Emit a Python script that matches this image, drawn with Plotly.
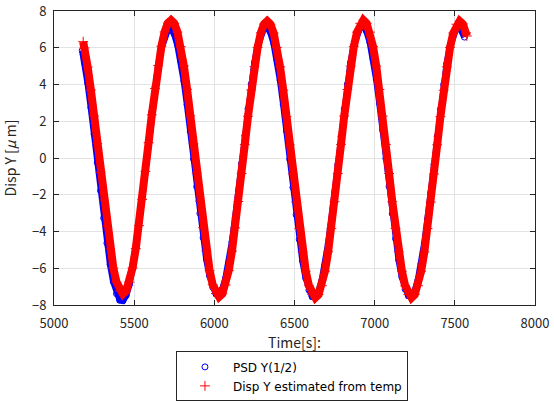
import plotly.graph_objects as go

# time grid shared by both series (s)
t_grid = [
    5190, 5210, 5230, 5250, 5270, 5290, 5310, 5330, 5350, 5370, 5390, 5410,
    5430, 5450, 5470, 5490, 5510, 5530, 5550, 5570, 5590, 5610, 5630, 5650, 5670, 5690, 5710,
    5730, 5750, 5770, 5790, 5810, 5830, 5850, 5870, 5890, 5910, 5930, 5950, 5970, 5990, 6010,
    6030, 6050, 6070, 6090, 6110, 6130, 6150, 6170, 6190, 6210, 6230, 6250, 6270, 6290, 6310,
    6330, 6350, 6370, 6390, 6410, 6430, 6450, 6470, 6490, 6510, 6530, 6550, 6570, 6590, 6610,
    6630, 6650, 6670, 6690, 6710, 6730, 6750, 6770, 6790, 6810, 6830, 6850, 6870, 6890, 6910,
    6930, 6950, 6970, 6990, 7010, 7030, 7050, 7070, 7090, 7110, 7130, 7150, 7170, 7190, 7210,
    7230, 7250, 7270, 7290, 7310, 7330, 7350, 7370, 7390, 7410, 7430, 7450, 7470, 7490, 7510,
    7530, 7550,
]

psd_t = [5176] + t_grid + [7560]
psd_y = [
    5.85,
    5.20, 4.08, 2.75, 1.29, -0.25, -1.78, -3.27, -4.63, -5.79, -6.73, -7.39, -7.74,
    -7.77, -7.48, -6.88, -6.00, -4.87, -3.54, -2.07, -0.53, 1.01, 2.51, 3.87, 5.04, 5.97, 6.63, 6.99,
    7.03, 6.74, 6.15, 5.29, 4.19, 2.89, 1.45, -0.05, -1.56, -3.01, -4.34, -5.49, -6.40, -7.04, -7.39,
    -7.42, -7.14, -6.55, -5.68, -4.57, -3.26, -1.81, -0.30, 1.22, 2.68, 4.02, 5.17, 6.09, 6.74, 7.09,
    7.12, 6.83, 6.24, 5.36, 4.24, 2.92, 1.46, -0.07, -1.60, -3.09, -4.44, -5.60, -6.53, -7.19, -7.54,
    -7.57, -7.28, -6.68, -5.80, -4.68, -3.35, -1.89, -0.36, 1.18, 2.67, 4.03, 5.20, 6.13, 6.79, 7.14,
    7.17, 6.88, 6.29, 5.41, 4.29, 2.97, 1.51, -0.02, -1.55, -3.04, -4.39, -5.55, -6.48, -7.14, -7.49,
    -7.52, -7.23, -6.64, -5.76, -4.65, -3.33, -1.88, -0.35, 1.17, 2.65, 4.00, 5.16, 6.08, 6.74, 7.09,
    7.12, 6.84, 6.58,
]

est_t = [5182] + t_grid + [7570, 7575]
est_y = [
    6.33,
    5.99, 4.95, 3.70, 2.29, 0.78, -0.78, -2.29, -3.70, -4.95, -5.99, -6.76, -7.24, -7.40,
    -7.24, -6.76, -5.98, -4.93, -3.68, -2.25, -0.73, 0.83, 2.35, 3.78, 5.03, 6.08, 6.86, 7.34, 7.50,
    7.33, 6.85, 6.06, 5.01, 3.74, 2.30, 0.77, -0.82, -2.35, -3.79, -5.06, -6.11, -6.90, -7.38, -7.55,
    -7.39, -6.91, -6.12, -5.07, -3.80, -2.37, -0.84, 0.74, 2.27, 3.70, 4.97, 6.02, 6.81, 7.29, 7.45,
    7.28, 6.80, 6.01, 4.96, 3.69, 2.25, 0.72, -0.87, -2.40, -3.84, -5.11, -6.16, -6.95, -7.43, -7.60,
    -7.43, -6.95, -6.16, -5.10, -3.83, -2.38, -0.84, 0.74, 2.28, 3.73, 5.00, 6.06, 6.85, 7.33, 7.50,
    7.33, 6.85, 6.06, 5.00, 3.73, 2.28, 0.74, -0.84, -2.38, -3.83, -5.10, -6.16, -6.95, -7.43, -7.60,
    -7.43, -6.95, -6.16, -5.11, -3.84, -2.40, -0.87, 0.72, 2.25, 3.69, 4.96, 6.01, 6.80, 7.28, 7.45,
    7.29, 6.81, 6.64,
]

x_ticks = [5000, 5500, 6000, 6500, 7000, 7500, 8000]
y_ticks = [-8, -6, -4, -2, 0, 2, 4, 6, 8]

FONT = "Noto Sans CJK JP"
AX = "#262626"

fig = go.Figure()
fig.add_trace(go.Scatter(x=psd_t, y=psd_y, mode="lines", showlegend=False,
                         line=dict(color="#0000ff", width=6.5), hoverinfo="skip"))
fig.add_trace(go.Scatter(x=psd_t, y=psd_y, mode="markers", name="PSD Y(1/2)",
                         marker=dict(symbol="circle-open", size=6, color="#0000ff",
                                     line=dict(width=1, color="#0000ff"))))
fig.add_trace(go.Scatter(x=est_t, y=est_y, mode="lines", showlegend=False,
                         line=dict(color="#ff0000", width=8), hoverinfo="skip"))
fig.add_trace(go.Scatter(x=est_t, y=est_y, mode="markers", name="Disp Y estimated from temp",
                         marker=dict(symbol="cross-thin", size=7, color="#ff0000",
                                     line=dict(width=1, color="#ff0000"))))

axis_common = dict(
    showline=True, linecolor=AX, linewidth=1, mirror="ticks",
    ticks="inside", ticklen=5, tickcolor=AX, tickwidth=1,
    showgrid=True, gridcolor="#e3e3e3", gridwidth=1,
    zeroline=False, tickfont=dict(family=FONT, size=13, color=AX),
)

fig.update_layout(
    width=554, height=403,
    margin=dict(l=54, r=19, t=11, b=98, autoexpand=False),
    paper_bgcolor="white", plot_bgcolor="white",
    font=dict(family=FONT, color=AX),
    xaxis=dict(range=[5000, 8000], tickvals=x_ticks, ticklabelstandoff=6, **axis_common,
               title=dict(text="Time[s]:", font=dict(family=FONT, size=14, color=AX), standoff=5)),
    yaxis=dict(range=[-8, 8], tickvals=y_ticks, ticklabelstandoff=4, **axis_common,
               title=dict(text="Disp Y [<i>μ</i> m]", font=dict(family=FONT, size=14, color=AX), standoff=13)),
    legend=dict(x=0.527, xref="container", y=0.004, yref="container",
                xanchor="center", yanchor="bottom",
                bgcolor="white", bordercolor=AX, borderwidth=1,
                font=dict(family="DejaVu Sans", size=12, color="black"),
                tracegroupgap=0, itemwidth=46),
    showlegend=True,
)

fig.write_html("out.html", config={"displayModeBar": False},
               post_script="document.body.style.margin='0';")
